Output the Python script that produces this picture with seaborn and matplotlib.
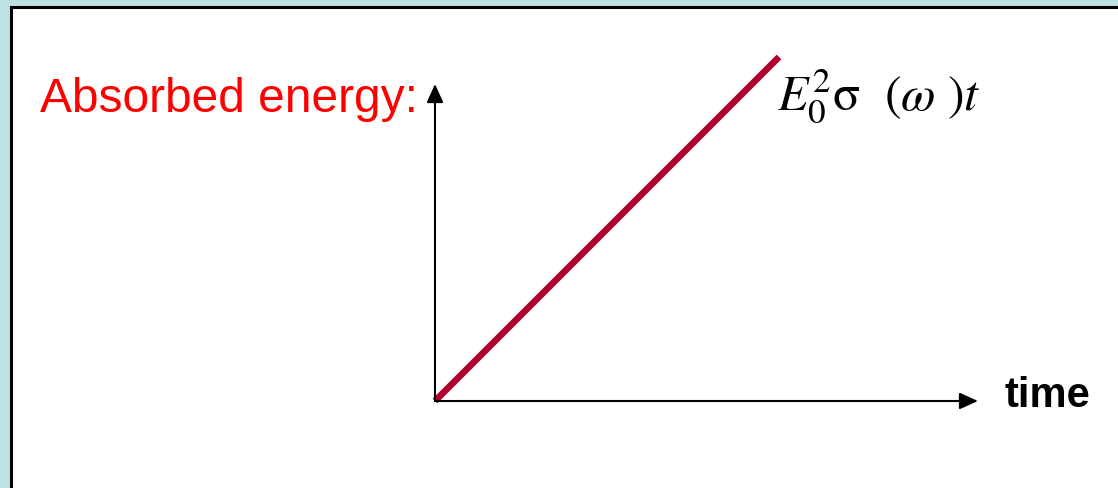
import matplotlib
matplotlib.use("Agg")
import matplotlib.pyplot as plt
import matplotlib.patches as mpatches
import seaborn as sns
import pandas as pd

# -----------------------------
# data
# -----------------------------
time_vals = [0.0, 1.0]
energy_vals = [0.0, 1.0]
y_label = "Absorbed energy:"
x_label = "time"
curve_label = r"$E_0^2\mathrm{\sigma}\ \ (\omega\ )t$"

df = pd.DataFrame({"time": time_vals, "energy": energy_vals})

sns.set_style("white")
plt.rcParams["font.family"] = ["Liberation Sans", "DejaVu Sans"]
plt.rcParams["mathtext.fontset"] = "stix"

W, H = 1118, 488
fig = plt.figure(figsize=(W / 100, H / 100), dpi=100)
fig.patch.set_facecolor("#bde1e4")

# white panel with dark border
panel = mpatches.Rectangle((11 / W, -0.2), 1.2, 0.2 + (H - 7) / H,
                           transform=fig.transFigure, facecolor="white",
                           edgecolor="black", linewidth=2.2, zorder=-5)
fig.add_artist(panel)

# axes: origin at (435, 401) px, x arrow to 978 px, y arrow to 84 px
ax = fig.add_axes([435 / W, (H - 401) / H, 543 / W, 317 / H])
ax.set_zorder(5)
ax.set_facecolor("none")
unit = 344.0
ax.set_xlim(0, 543 / unit)
ax.set_ylim(0, 317 / unit)

sns.lineplot(data=df, x="time", y="energy", ax=ax, color="#b00030",
             linewidth=4.7, clip_on=False)
ax.lines[0].set_solid_capstyle("butt")

for s in ax.spines.values():
    s.set_visible(False)
ax.set_xticks([])
ax.set_yticks([])
ax.set_xlabel("")
ax.set_ylabel("")

arrow_kw = dict(arrowstyle="-|>,head_length=0.4,head_width=0.18", color="black",
                lw=1.5, mutation_scale=28, shrinkA=0, shrinkB=0)
ax.annotate("", xy=(1, 0), xytext=(0, 0), xycoords="axes fraction",
            textcoords="axes fraction", arrowprops=arrow_kw, annotation_clip=False)
ax.annotate("", xy=(0, 1), xytext=(0, 0), xycoords="axes fraction",
            textcoords="axes fraction", arrowprops=arrow_kw, annotation_clip=False)

fig.text(40 / W, (H - 112) / H, y_label, color="#ff0000", fontsize=34.5,
         ha="left", va="baseline", zorder=6)
fig.text(1005 / W, (H - 407) / H, x_label, color="black", fontsize=30,
         fontweight="bold", ha="left", va="baseline", zorder=6)
fig.text(777 / W, (H - 110) / H, curve_label, color="black", fontsize=36,
         ha="left", va="baseline", zorder=6)

fig.savefig("out.png", dpi=100, facecolor=fig.get_facecolor())
